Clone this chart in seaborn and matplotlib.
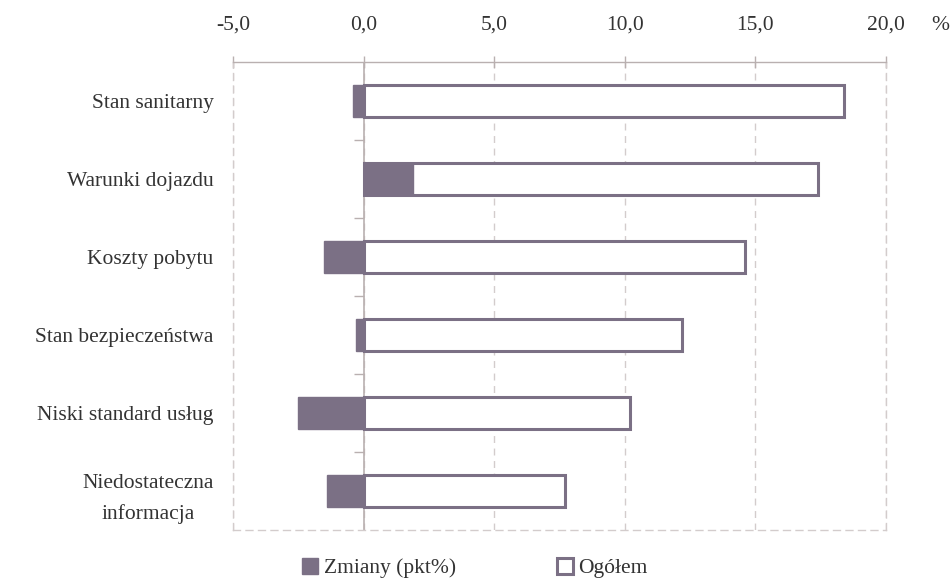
import matplotlib
matplotlib.use("Agg")
import matplotlib.pyplot as plt
import seaborn as sns
import pandas as pd
from matplotlib.ticker import FuncFormatter, FixedLocator
from matplotlib.patches import Patch

categories = ["Stan sanitarny", "Warunki dojazdu", "Koszty pobytu",
              "Stan bezpieczeństwa", "Niski standard usług",
              "Niedostateczna\ninformacja"]
ogolem = [18.4, 17.4, 14.6, 12.2, 10.2, 7.7]
zmiany = [-0.4, 1.9, -1.5, -0.3, -2.5, -1.4]
x_ticks = [-5, 0, 5, 10, 15, 20]

sns.set_theme(style="white")
plt.rcParams['font.family'] = ['Liberation Serif', 'DejaVu Serif']

purple = "#7b7085"
grid_c = "#d3cccc"
axis_c = "#b9b0b0"
text_c = "#333333"
fs = 15.5

df = pd.DataFrame({"cat": categories, "ogolem": ogolem, "zmiany": zmiany})

fig = plt.figure(figsize=(9.5, 5.83), dpi=100)
ax = fig.add_axes([233/950, 1-530/583, (886-233)/950, (530-62)/583])

sns.barplot(data=df, x="ogolem", y="cat", orient="h", ax=ax, width=0.42,
            color="white", edgecolor=purple, linewidth=2.2, zorder=3)
sns.barplot(data=df, x="zmiany", y="cat", orient="h", ax=ax, width=0.42,
            color=purple, edgecolor=purple, linewidth=1.0, saturation=1, zorder=4)

ax.set_xlim(-5, 20)
ax.set_ylim(len(categories) - 0.5, -0.5)
ax.xaxis.set_major_locator(FixedLocator(x_ticks))
ax.xaxis.set_major_formatter(FuncFormatter(lambda v, p: f"{v:.1f}".replace(".", ",")))
ax.xaxis.tick_top()
ax.tick_params(axis="x", which="major", direction="inout", length=8, width=1,
               color=axis_c, labelsize=fs, pad=16, labelcolor=text_c)
ax.tick_params(axis="y", length=0, labelsize=fs, pad=14, labelcolor=text_c)
for lab in ax.get_yticklabels():
    lab.set_multialignment("center")
    lab.set_linespacing(1.75)
ax.set_xlabel("")
ax.set_ylabel("")

ax.grid(axis="x", linestyle=(0, (5, 4)), color=grid_c, linewidth=1.0, zorder=0)
for side in ["left", "right", "bottom"]:
    ax.spines[side].set_linestyle((0, (5, 4)))
    ax.spines[side].set_color(grid_c)
    ax.spines[side].set_linewidth(1.0)
ax.spines["top"].set_color(axis_c)
ax.spines["top"].set_linewidth(1.0)

ax.axvline(0, color=axis_c, linewidth=1.2, zorder=2)
bounds = [i + 0.5 for i in range(len(categories) - 1)]
ax.plot([0] * len(bounds), bounds, linestyle="none", marker=0, markersize=7,
        markeredgewidth=1.0, color=axis_c, zorder=2, clip_on=False)

fig.text(940/950, 1-25/583, "%", ha="center", va="center", fontsize=fs, color=text_c)

handles = [Patch(facecolor=purple, edgecolor=purple, label="Zmiany (pkt%)"),
           Patch(facecolor="white", edgecolor=purple, linewidth=2.2, label="Ogółem")]
fig.legend(handles=handles, loc="center", bbox_to_anchor=(475/950, 1-568/583), ncol=2,
           frameon=False, fontsize=fs, handlelength=0.75, handleheight=0.75,
           handletextpad=0.25, columnspacing=4.7, labelcolor=text_c)

fig.savefig("out.png", dpi=100)
